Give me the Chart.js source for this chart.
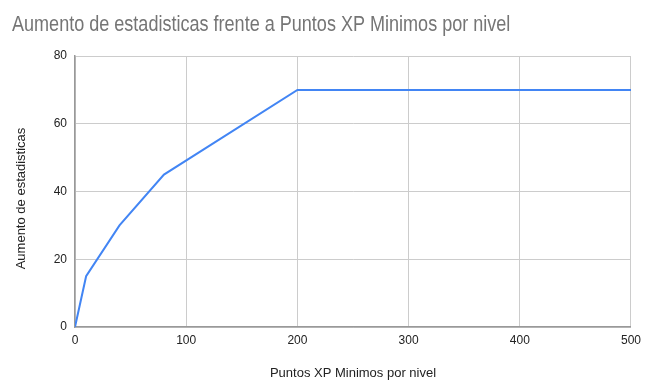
<!DOCTYPE html>
<html>
<head>
<meta charset="utf-8">
<script src="https://cdn.jsdelivr.net/npm/chart.js@4.4.1/dist/chart.umd.min.js"></script>
<style>
  html, body { margin: 0; padding: 0; background: #ffffff; }
  #wrap { width: 647px; height: 385px; }
</style>
</head>
<body>
<div id="wrap"><canvas id="c" width="647" height="385"></canvas></div>
<script>
const xpPoints = [0, 10, 40, 80, 200, 500];
const statIncrease = [0, 15, 30, 45, 70, 70];
const xTicks = [0, 100, 200, 300, 400, 500];
const yTicks = [0, 20, 40, 60, 80];

const chartTitle = 'Aumento de estadisticas frente a Puntos XP Minimos por nivel';
const xTitle = 'Puntos XP Minimos por nivel';
const yTitle = 'Aumento de estadisticas';

const FONT = "'Liberation Sans', Arial, sans-serif";

// Draws the (horizontally condensed) chart title and the rotated y-axis title as canvas text.
const condensedText = {
  id: 'condensedText',
  afterDraw(chart) {
    const ctx = chart.ctx;
    const area = chart.chartArea;
    ctx.save();
    ctx.fillStyle = '#757575';
    ctx.font = "22px " + FONT;
    ctx.textAlign = 'left';
    ctx.textBaseline = 'alphabetic';
    ctx.translate(12, area.top - 25);
    ctx.scale(0.82, 1);
    ctx.fillText(chartTitle, 0, 0);
    ctx.restore();

    ctx.save();
    ctx.fillStyle = '#222222';
    ctx.font = "13px " + FONT;
    ctx.textAlign = 'center';
    ctx.textBaseline = 'alphabetic';
    ctx.translate(25, (area.top + area.bottom) / 2 + 7);
    ctx.rotate(-Math.PI / 2);
    ctx.fillText(yTitle, 0, 0);
    ctx.restore();
  }
};

new Chart(document.getElementById('c'), {
  type: 'line',
  data: {
    datasets: [{
      data: xpPoints.map((x, i) => ({ x: x, y: statIncrease[i] })),
      borderColor: '#4285F4',
      borderWidth: 2,
      pointRadius: 0,
      fill: false,
      tension: 0
    }]
  },
  options: {
    responsive: false,
    animation: false,
    devicePixelRatio: 1,
    layout: { padding: { left: 12, right: 15, top: 56, bottom: 0 } },
    plugins: {
      legend: { display: false },
      tooltip: { enabled: false },
      title: { display: false }
    },
    scales: {
      x: {
        type: 'linear',
        min: 0,
        max: 500,
        afterFit: s => { s.height = 58; },
        afterBuildTicks: s => { s.ticks = xTicks.map(v => ({ value: v })); },
        ticks: { color: '#222', font: { family: FONT, size: 12 }, padding: 6, maxRotation: 0 },
        grid: { color: '#cccccc', drawTicks: false, lineWidth: 1 },
        border: { color: '#999999', width: 1.5 },
        title: { display: true, text: xTitle, color: '#222', font: { family: FONT, size: 13 }, padding: { top: 0, bottom: 4 } }
      },
      y: {
        type: 'linear',
        min: 0,
        max: 80,
        afterFit: s => { s.width = 63; },
        afterBuildTicks: s => { s.ticks = yTicks.map(v => ({ value: v })); },
        ticks: { color: '#222', font: { family: FONT, size: 12 }, padding: 8 },
        grid: { color: '#cccccc', drawTicks: false, lineWidth: 1 },
        border: { color: '#999999', width: 1.5 },
        title: { display: false }
      }
    }
  },
  plugins: [condensedText]
});
</script>
</body>
</html>
